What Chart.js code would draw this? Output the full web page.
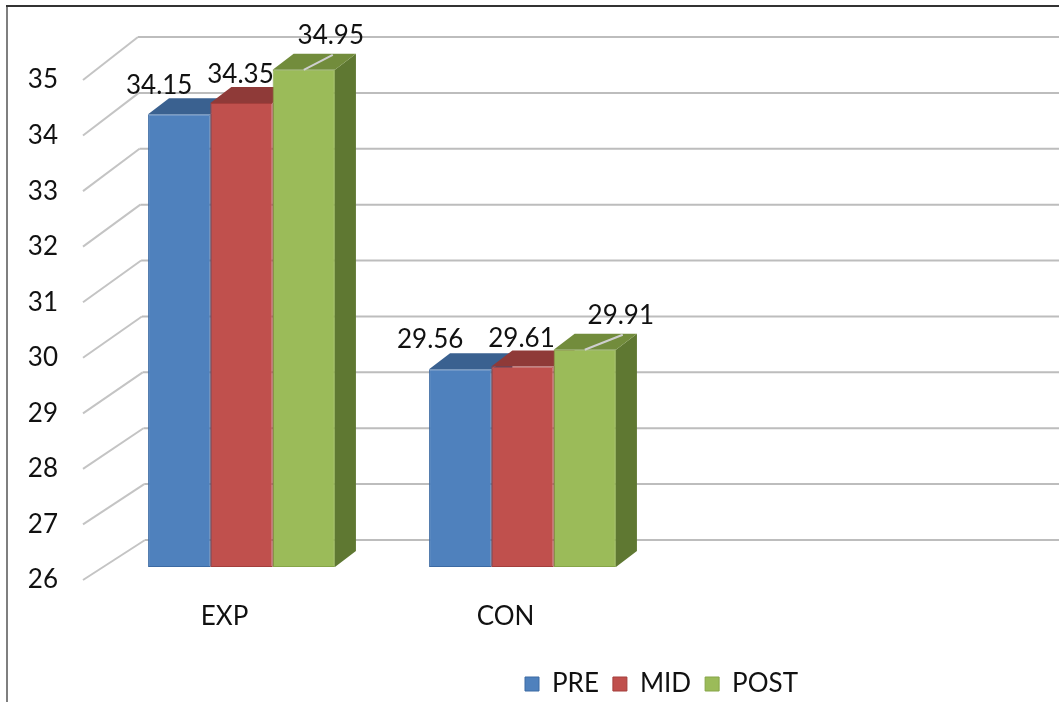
<!DOCTYPE html>
<html>
<head>
<meta charset="utf-8">
<script src="https://cdn.jsdelivr.net/npm/chart.js"></script>
<style>
  html, body { margin: 0; padding: 0; background: #fff; }
  #wrap { width: 1059px; height: 702px; }
</style>
</head>
<body>
<div id="wrap"><canvas id="scoreChart" width="1059" height="702"></canvas></div>
<script>
// data
const groups = ['EXP', 'CON'];
const seriesNames = ['PRE', 'MID', 'POST'];
const preScores = [34.15, 29.56];
const midScores = [34.35, 29.61];
const postScores = [34.95, 29.91];
const yTicks = [26, 27, 28, 29, 30, 31, 32, 33, 34, 35];

const FONT = "Lato, 'Open Sans', sans-serif";
const FSIZE = 26;
const DX = 21, DY = -16;   // depth of the 3d bars

// front / top / side colours for each series
const faceColors = [
  { front: '#4f81bd', top: '#3a6190', side: '#2f4f78', edge: '#3c6aa3' },
  { front: '#c0504d', top: '#8f3a38', side: '#7a302e', edge: '#a43f3c' },
  { front: '#9bbb59', top: '#728c3c', side: '#5f7832', edge: '#86a548' }
];
// where excel put the value labels, relative to the bar top
const labelNudge = [
  [[-20, -29], [-30, -30]],
  [[-1, -29], [-1, -28]],
  [[27, -34], [36, -34]]
];

function poly(ctx, pts, fill) {
  ctx.beginPath();
  ctx.moveTo(pts[0][0], pts[0][1]);
  for (let i = 1; i < pts.length; i++) ctx.lineTo(pts[i][0], pts[i][1]);
  ctx.closePath();
  ctx.fillStyle = fill;
  ctx.fill();
}

const fake3d = {
  id: 'fake3d',
  beforeDraw(chart) {
    const ctx = chart.ctx;
    ctx.save();
    ctx.lineWidth = 2;
    ctx.strokeStyle = '#7f7f7f';
    ctx.beginPath();
    ctx.moveTo(7, chart.height);
    ctx.lineTo(7, 6);
    ctx.stroke();
    ctx.strokeStyle = '#333';
    ctx.beginPath();
    ctx.moveTo(6, 6);
    ctx.lineTo(chart.width, 6);
    ctx.stroke();
    ctx.restore();
  },
  beforeDatasetsDraw(chart) {
    const ctx = chart.ctx;
    const area = chart.chartArea;
    const y = chart.scales.y;
    const lo = yTicks[0], hi = yTicks[yTicks.length - 1];
    ctx.save();
    // back wall and the slanted side wall lines
    yTicks.forEach(v => {
      const py = y.getPixelForValue(v);
      const t = (v - lo) / (hi - lo);
      const backY = py - 27 - 3 * t;
      const backX = area.left + 44 - 7 * t;
      ctx.lineWidth = 2;
      ctx.strokeStyle = '#c4c4c4';
      ctx.beginPath();
      ctx.moveTo(area.left - 18, py + 13);
      ctx.lineTo(backX, backY);
      ctx.stroke();
      ctx.strokeStyle = '#bdbdbd';
      ctx.beginPath();
      ctx.moveTo(backX, backY);
      ctx.lineTo(chart.width, backY);
      ctx.stroke();
    });
    // side and top faces, left to right so nearer faces cover
    groups.forEach((g, gi) => {
      chart.data.datasets.forEach((ds, di) => {
        const el = chart.getDatasetMeta(di).data[gi];
        const l = el.x - el.width / 2, r = el.x + el.width / 2;
        const c = faceColors[di];
        poly(ctx, [[r, el.y], [r + DX, el.y + DY], [r + DX, el.base + DY], [r, el.base]], c.side);
        poly(ctx, [[l, el.y], [r, el.y], [r + DX, el.y + DY], [l + DX, el.y + DY]], c.top);
      });
    });
    ctx.restore();
  },
  afterDatasetsDraw(chart) {
    const ctx = chart.ctx;
    ctx.save();
    ctx.font = FSIZE + 'px ' + FONT;
    ctx.textAlign = 'center';
    ctx.textBaseline = 'middle';
    chart.data.datasets.forEach((ds, di) => {
      chart.getDatasetMeta(di).data.forEach((el, i) => {
        const [nx, ny] = labelNudge[di][i];
        if (di === 2) {
          ctx.strokeStyle = '#cfcfcf';
          ctx.lineWidth = 2;
          ctx.beginPath();
          ctx.moveTo(el.x, el.y);
          ctx.lineTo(el.x + nx + 2, el.y + DY + 1);
          ctx.stroke();
        }
        ctx.fillStyle = '#111';
        ctx.fillText(ds.data[i].toFixed(2), el.x + nx, el.y + ny);
      });
    });
    ctx.restore();
  },
  afterUpdate(chart) {
    // excel centred the legend under a wider plot; move it there
    const lg = chart.legend;
    if (!lg || !lg.legendHitBoxes.length) return;
    const hb = lg.legendHitBoxes[0];
    const dx = 525 - hb.left;
    const dy = 684 - (hb.top + hb.height / 2);
    lg.left += dx; lg.right += dx; lg.top += dy; lg.bottom += dy;
    lg.legendHitBoxes.forEach(h => { h.left += dx; h.top += dy; });
  }
};

const seriesData = [preScores, midScores, postScores];

const ctx = document.getElementById('scoreChart').getContext('2d');
const scoreChart = new Chart(ctx, {
  type: 'bar',
  data: {
    labels: groups,
    datasets: seriesNames.map((name, i) => ({
      label: name,
      data: seriesData[i],
      base: yTicks[0],
      backgroundColor: faceColors[i].front,
      borderColor: faceColors[i].edge,
      borderWidth: 1,
      borderSkipped: false,
      categoryPercentage: 0.665,
      barPercentage: 1
    }))
  },
  options: {
    responsive: false,
    animation: false,
    devicePixelRatio: 1,
    layout: { padding: { left: 0, right: 396, top: 67, bottom: 0 } },
    plugins: {
      legend: {
        position: 'bottom',
        labels: {
          boxWidth: 14,
          boxHeight: 14,
          padding: 14,
          color: '#111',
          font: { family: FONT, size: FSIZE }
        }
      },
      tooltip: { enabled: false },
      title: { display: false }
    },
    scales: {
      x: {
        grid: { display: false },
        border: { display: false },
        ticks: {
          color: '#111',
          font: { family: FONT, size: FSIZE },
          padding: 26,
          labelOffset: -17
        },
        afterFit(scale) { scale.height = 85; }
      },
      y: {
        min: yTicks[0],
        max: yTicks[yTicks.length - 1],
        grid: { display: false },
        border: { display: false },
        afterBuildTicks(scale) { scale.ticks = yTicks.map(v => ({ value: v })); },
        ticks: {
          color: '#111',
          font: { family: FONT, size: FSIZE },
          padding: 35,
          labelOffset: 13
        },
        afterFit(scale) { scale.width = 101; }
      }
    }
  },
  plugins: [fake3d]
});
</script>
</body>
</html>
